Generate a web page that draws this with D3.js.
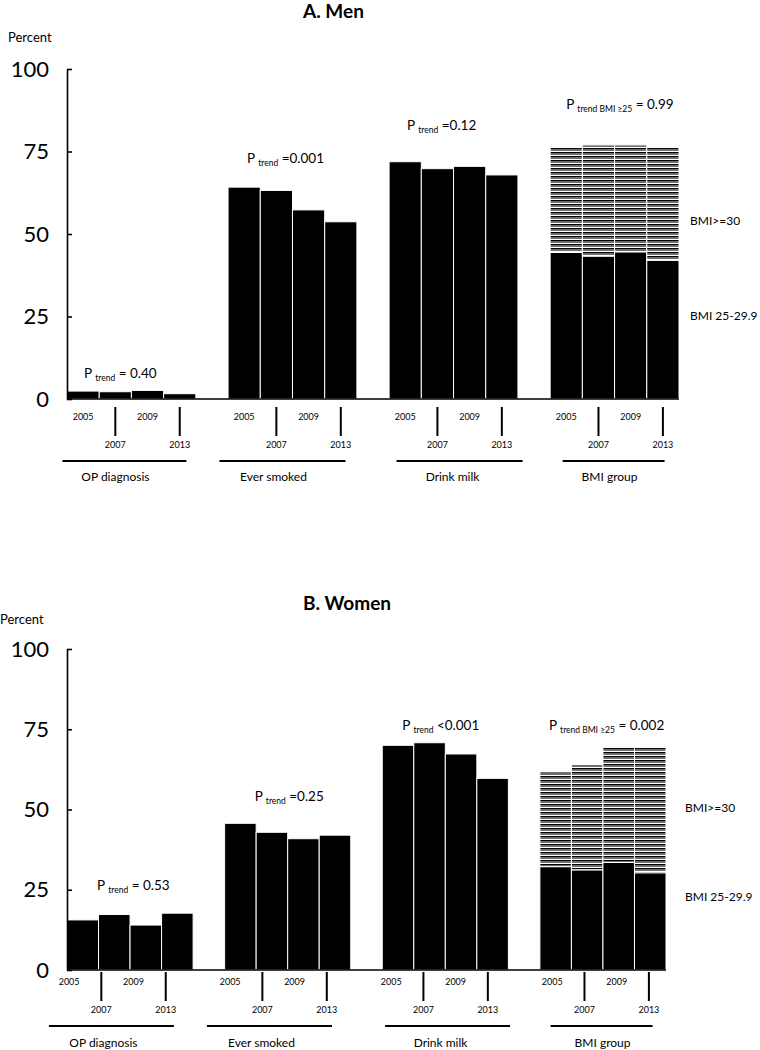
<!DOCTYPE html>
<html>
<head>
<meta charset="utf-8">
<script src="https://cdn.jsdelivr.net/npm/d3@7"></script>
<style>
  body { margin: 0; background: #fff; }
  text { font-family: Lato, "Open Sans", sans-serif; fill: #000; }
</style>
</head>
<body>
<script>
// ---------- DATA ----------
const groups = ["OP diagnosis", "Ever smoked", "Drink milk", "BMI group"];
const years = ["2005", "2007", "2009", "2013"];
const yTicks = [0, 25, 50, 75, 100];

// Men (percent)
const menOP = [2.4, 2.2, 2.6, 1.6];
const menSmoked = [64.2, 63.2, 57.3, 53.7];
const menMilk = [71.9, 69.8, 70.5, 67.9];
const menBMI25 = [44.4, 43.3, 44.6, 42.0];   // BMI 25-29.9 (solid)
const menBMI30 = [31.8, 33.7, 32.4, 34.2];   // BMI >= 30 (hatched, stacked)
const menPSub = ["trend", "trend", "trend", "trend BMI \u226525"];
const menPVal = ["= 0.40", "=0.001", "=0.12", "= 0.99"];

// Women (percent)
const womenOP = [15.6, 17.3, 14.0, 17.7];
const womenSmoked = [45.7, 42.9, 40.9, 42.0];
const womenMilk = [70.0, 70.8, 67.3, 59.7];
const womenBMI25 = [32.2, 31.2, 33.5, 30.3];
const womenBMI30 = [29.5, 32.8, 36.0, 39.0];
const womenPSub = ["trend", "trend", "trend", "trend BMI \u226525"];
const womenPVal = ["= 0.53", "=0.25", "<0.001", "= 0.002"];

const bmiLabels = ["BMI>=30", "BMI 25-29.9"];

// ---------- DRAW ----------
const svg = d3.select("body").append("svg")
  .attr("width", 760).attr("height", 1050)
  .style("display", "block");

const defs = svg.append("defs");
const pat = defs.append("pattern").attr("id", "hatch")
  .attr("patternUnits", "userSpaceOnUse").attr("width", 8).attr("height", 4);
pat.append("rect").attr("width", 8).attr("height", 4).attr("fill", "#fff");
pat.append("rect").attr("y", 0).attr("width", 8).attr("height", 1).attr("fill", "#000");
pat.append("rect").attr("y", 1).attr("width", 8).attr("height", 2).attr("fill", "#6e6e6e");

function panel(cfg) {
  const g = svg.append("g");
  const y = d3.scaleLinear().domain([0, 100]).range(cfg.yRange);
  const x = d3.scaleBand().domain(groups).range(cfg.xRange).paddingInner(0.2).paddingOuter(0);
  const xi = d3.scaleBand().domain(years).range([0, x.bandwidth()]).padding(0);
  const xl = d3.scaleBand().domain(groups).range(cfg.labelRange).paddingInner(0.2).paddingOuter(0);
  const xli = d3.scaleBand().domain(years).range([0, xl.bandwidth()]).padding(0);
  const base = y(0);

  // title
  g.append("text").attr("x", cfg.titleX).attr("y", cfg.titleY)
    .attr("font-size", 19).attr("font-weight", "bold").text(cfg.title);
  g.append("text").attr("x", cfg.percentX).attr("y", cfg.percentY)
    .attr("font-size", 13).text("Percent");

  // bars
  const layers = [
    [{ vals: cfg.op, fill: "#000" }],
    [{ vals: cfg.smoked, fill: "#000" }],
    [{ vals: cfg.milk, fill: "#000" }],
    [{ vals: cfg.bmi25, fill: "#000" }, { vals: cfg.bmi30, fill: "url(#hatch)" }]
  ];
  const rects = [];
  groups.forEach((grp, gi) => {
    years.forEach((yr, i) => {
      let acc = 0;
      layers[gi].forEach(L => {
        rects.push({ grp, yr, y0: acc, y1: acc + L.vals[i], fill: L.fill });
        acc += L.vals[i];
      });
    });
  });
  g.selectAll("rect.bar").data(rects).join("rect").attr("class", "bar")
    .attr("x", d => x(d.grp) + xi(d.yr))
    .attr("width", xi.bandwidth())
    .attr("y", d => y(d.y1))
    .attr("height", d => y(d.y0) - y(d.y1))
    .attr("fill", d => d.fill)
    .attr("stroke", "#fff").attr("stroke-width", 1);

  // y axis
  const ax = g.append("g").attr("transform", `translate(${cfg.xRange[0]},0)`)
    .call(d3.axisLeft(y).tickValues(yTicks).tickSizeInner(-5).tickSizeOuter(0).tickPadding(18));
  ax.selectAll("path,line").attr("stroke", "#000").attr("stroke-width", 1.6);
  ax.selectAll("text").attr("font-family", "'Liberation Sans', Arial, sans-serif")
    .attr("font-size", 22).attr("fill", "#000");

  // baseline
  g.append("line").attr("x1", cfg.xRange[0]).attr("x2", cfg.xRange[1])
    .attr("y1", base).attr("y2", base).attr("stroke", "#000").attr("stroke-width", 1.6);

  // year labels
  groups.forEach((grp, gi) => {
    years.forEach((yr, i) => {
      const cx = xl(grp) + xli(yr) + xli.bandwidth() / 2;
      if (i % 2 === 0) {
        g.append("text").attr("x", cx).attr("y", base + cfg.row1).attr("dy", "0.35em")
          .attr("text-anchor", "middle").attr("font-size", 9).text(yr);
      } else {
        g.append("line").attr("x1", cx).attr("x2", cx)
          .attr("y1", base + cfg.tickTop).attr("y2", base + cfg.tickBot)
          .attr("stroke", "#000").attr("stroke-width", 2);
        g.append("text").attr("x", cx).attr("y", base + cfg.row2).attr("dy", "0.35em")
          .attr("text-anchor", "middle").attr("font-size", 9).text(yr);
      }
    });
    const gc = xl(grp) + xl.bandwidth() / 2;
    const lc = gc + cfg.lineDx[gi];
    g.append("line").attr("x1", lc - cfg.lineW[gi] / 2).attr("x2", lc + cfg.lineW[gi] / 2)
      .attr("y1", base + cfg.lineY).attr("y2", base + cfg.lineY)
      .attr("stroke", "#000").attr("stroke-width", 2);
    g.append("text").attr("x", gc + cfg.textDx[gi]).attr("y", base + cfg.labelY).attr("dy", "0.35em")
      .attr("text-anchor", "middle").attr("font-size", 12).text(grp);
  });

  // p trend annotations
  groups.forEach((grp, gi) => {
    const t = g.append("text").attr("x", x(grp) + cfg.pPos[gi][0]).attr("y", y(cfg.pPos[gi][1]))
      .attr("font-size", 13.5);
    t.append("tspan").text("P ");
    t.append("tspan").attr("font-size", 8.5).attr("dy", 3).text(cfg.pSub[gi]);
    t.append("tspan").attr("dy", -3).text(" " + cfg.pVal[gi]);
  });

  // right labels
  bmiLabels.forEach((lab, i) => {
    g.append("text").attr("x", cfg.rightX).attr("y", y(cfg.rightVals[i])).attr("dy", "0.35em")
      .attr("font-size", 12).text(lab);
  });
}

panel({
  title: "A. Men", titleX: 303, titleY: 18, percentX: 8, percentY: 42,
  yRange: [399, 69], xRange: [67, 679], labelRange: [67, 679],
  op: menOP, smoked: menSmoked, milk: menMilk, bmi25: menBMI25, bmi30: menBMI30,
  pSub: menPSub, pVal: menPVal,
  pPos: [[17, 6.4], [19, 71.5], [18, 81.5], [16, 87.9]],
  row1: 18, tickTop: 8, tickBot: 37, row2: 46, lineY: 62, labelY: 78,
  lineW: [124, 126, 126, 102], lineDx: [-7, -10, 6, -1], textDx: [-16, -19, -1, -5],
  rightX: 690, rightVals: [53.9, 25.2]
});

panel({
  title: "B. Women", titleX: 303, titleY: 610, percentX: 0, percentY: 624,
  yRange: [970, 649], xRange: [67, 666], labelRange: [53, 665],
  op: womenOP, smoked: womenSmoked, milk: womenMilk, bmi25: womenBMI25, bmi30: womenBMI30,
  pSub: womenPSub, pVal: womenPVal,
  pPos: [[30, 24.9], [30, 52.6], [20, 74.8], [9, 74.8]],
  row1: 12, tickTop: 2, tickBot: 31, row2: 40, lineY: 56, labelY: 73,
  lineW: [125, 125, 125, 102], lineDx: [-6, -9, 8, 1], textDx: [-14, -17, 1, 2],
  rightX: 685, rightVals: [50.5, 22.7]
});
</script>
</body>
</html>
